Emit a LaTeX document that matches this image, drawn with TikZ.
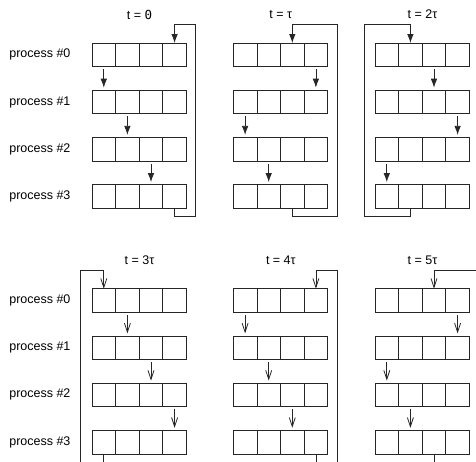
\documentclass[tikz,border=0pt]{standalone}
\usepackage{fontspec}
\setmainfont{Liberation Sans}
\newfontfamily\zerofont{DejaVu Sans Mono}
\usetikzlibrary{arrows.meta}
\tikzset{
  buf cell/.style={
    rectangle, draw=black!85, line width=0.8pt,
    minimum width=23.6pt, minimum height=23.6pt,
    inner sep=0pt, outer sep=0pt
  },
  proc label/.style={
    anchor=east, font=\fontsize{12.5}{15}\selectfont
  },
  time label/.style={
    font=\fontsize{12.5}{15}\selectfont
  },
  link/.style={
    draw=black!85, line width=0.8pt
  },
  fill arrow/.style={
    link, -{Latex[length=9pt,width=6.5pt]}
  },
  open arrow/.style={
    link, -{Straight Barb[length=9pt,width=6pt,line width=0.8pt]}
  }
}

\begin{document}
\begin{tikzpicture}[x=1pt, y=-1pt]
  \useasboundingbox (0,0) rectangle (476,461);
  \clip (0,0) rectangle (476,461);

  % process names, both halves
  \foreach \h/\py in {0/43, 1/288.7} {
    \foreach \r in {0,...,3}
      \node[proc label] (pl\h\r) at (74, {\py+11.8+47.2*\r}) {process \#\r};
  }

  % one panel per time step
  \foreach \k/\px/\py/\sx/\lbl in {
      0/92/43/195.7/{t = {\zerofont 0}},
      1/233.3/43/337.7/{t = τ},
      2/375/43/364/{t = 2τ},
      3/92/288.7/80.7/{t = 3τ},
      4/233.3/288.7/337.3/{t = 4τ},
      5/375/288.7/490/{t = 5τ}} {
    \ifnum\k<3 \tikzset{cur arrow/.style=fill arrow}
    \else \tikzset{cur arrow/.style=open arrow}\fi

    \node[time label] (tl\k) at ({\px+47.5}, {\py-28.5}) {\lbl};

    \foreach \r in {0,...,3}
      \foreach \j in {0,...,3}
        \node[buf cell] (c\k\r\j) at ({\px+11.8+23.6*\j}, {\py+11.8+47.2*\r}) {};

    % row to row
    \foreach \i in {0,1,2} {
      \pgfmathtruncatemacro\j{mod(\i-\k+8,4)}
      \pgfmathtruncatemacro\ii{\i+1}
      \draw[cur arrow, shorten <=2.5pt, shorten >=2.5pt]
        (c\k\i\j.south) -- (c\k\ii\j.north);
    }

    % wrap around from the last row to the first
    \pgfmathtruncatemacro\j{mod(3-\k+8,4)}
    \draw[cur arrow] (c\k3\j.south) -- ++(0,8.5)
      -| (\sx, {\py-18.7}) -| (c\k0\j.north);
  }
\end{tikzpicture}
\end{document}
